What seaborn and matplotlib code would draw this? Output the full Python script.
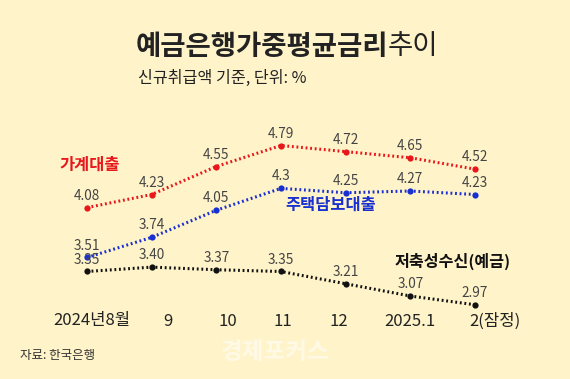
## 예금은행 가중평균금리 추이 (신규취급액 기준) - dotted line chart

import numpy as np
import pandas as pd
import matplotlib
matplotlib.use('Agg')
import matplotlib.pyplot as plt
import seaborn as sns

months = ['2024년8월', '9', '10', '11', '12', '2025.1', '2(잠정)']
household = [4.08, 4.23, 4.55, 4.79, 4.72, 4.65, 4.52]
mortgage = [3.51, 3.74, 4.05, 4.3, 4.25, 4.27, 4.23]
savings = [3.35, 3.40, 3.37, 3.35, 3.21, 3.07, 2.97]
household_lbl = ['4.08', '4.23', '4.55', '4.79', '4.72', '4.65', '4.52']
mortgage_lbl = ['3.51', '3.74', '4.05', '4.3', '4.25', '4.27', '4.23']
savings_lbl = ['3.35', '3.40', '3.37', '3.35', '3.21', '3.07', '2.97']
series_names = ['가계대출', '주택담보대출', '저축성수신(예금)']

BG = '#FFF3C9'
RED = '#E8171B'
BLUE = '#1930D0'
BLACK = '#111111'
W, H = 570, 379

sns.set_theme(style='white')
plt.rcParams['font.family'] = ['Noto Sans CJK KR', 'DejaVu Sans']

df = pd.DataFrame({'idx': np.arange(len(months)),
                   series_names[0]: household,
                   series_names[1]: mortgage,
                   series_names[2]: savings})
long = df.melt(id_vars='idx', var_name='series', value_name='rate')

fig = plt.figure(figsize=(W / 100, H / 100), dpi=100)
fig.patch.set_facecolor(BG)
ax = fig.add_axes([0, 0, 1, 1])
ax.set_facecolor(BG)

palette = {series_names[0]: RED, series_names[1]: BLUE, series_names[2]: BLACK}
sns.lineplot(data=long, x='idx', y='rate', hue='series', palette=palette,
             linewidth=2.2, linestyle=(0, (0.6, 0.9)), marker='o', markersize=4.5,
             markeredgewidth=0, legend=False, ax=ax)

ax.set_xlim(-1.345, 7.469)
ax.set_ylim(2.1214, 6.4529)
ax.axis('off')

# value labels above points
for vals, lbls in [(household, household_lbl), (mortgage, mortgage_lbl), (savings, savings_lbl)]:
    for i, (v, t) in enumerate(zip(vals, lbls)):
        ax.annotate(t, (i, v), xytext=(0, 8.6), textcoords='offset points',
                    ha='center', va='center', fontsize=9.8, color='#444444')

def ftext(px, py, s, **kw):
    fig.text(px / W, 1 - py / H, s, **kw)

# title / subtitle
ftext(388, 47, '예금은행가중평균금리', ha='right', va='center', fontsize=19.8,
      fontweight='bold', color='#222222')
ftext(388, 47, '추이', ha='left', va='center', fontsize=19.8, color='#222222')
ftext(138, 78, '신규취급액 기준, 단위: %', ha='left', va='center', fontsize=11.6, color='#222222')

# series labels
ftext(59, 165, series_names[0], ha='left', va='center', fontsize=11.8, fontweight='bold', color=RED)
ftext(285, 205, series_names[1], ha='left', va='center', fontsize=11.8, fontweight='bold', color=BLUE)
ftext(395, 261, series_names[2], ha='left', va='center', fontsize=11.6, fontweight='bold', color=BLACK)

# month labels
tick_px = [92, 168, 228, 283, 339, 410, 495]
for px, m in zip(tick_px, months):
    ftext(px, 321, m, ha='center', va='center', fontsize=12, fontweight='medium', color='#222222')

# source and watermark
ftext(20, 355, '자료: 한국은행', ha='left', va='center', fontsize=9, color='#333333')
ftext(275, 352, '경제포커스', ha='center', va='center', fontsize=17, fontweight='heavy',
      color='white', alpha=0.55)

fig.savefig('out.png', dpi=100, facecolor=BG)
